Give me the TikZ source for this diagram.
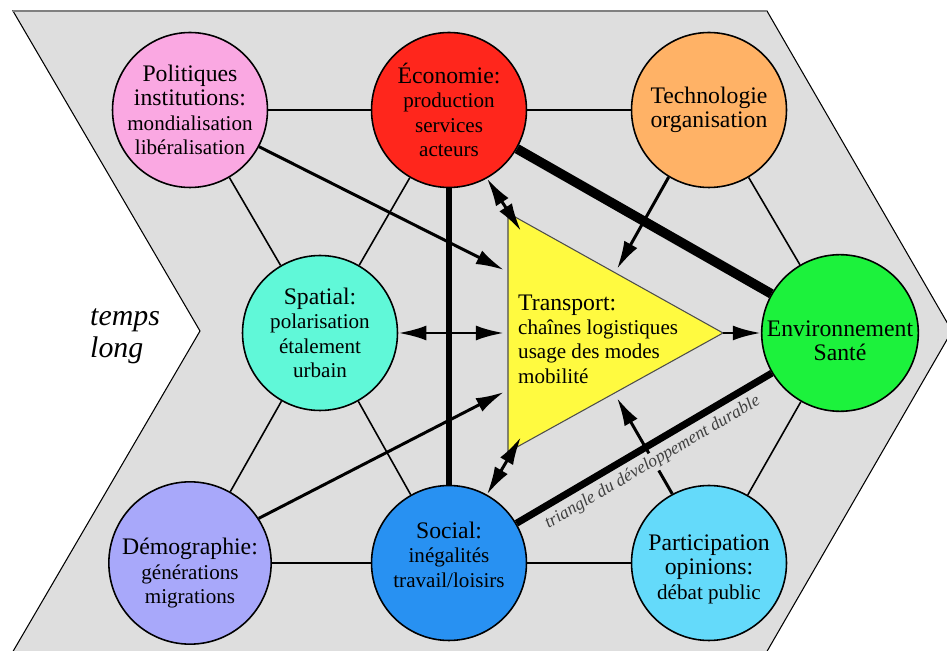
\documentclass[tikz,border=0pt]{standalone}
\usepackage{fontspec}
\setmainfont{Liberation Serif}
\usetikzlibrary{calc,arrows.meta}

\definecolor{fond}{RGB}{222,222,222}
\definecolor{cpol}{RGB}{250,168,226}
\definecolor{ceco}{RGB}{255,38,28}
\definecolor{ctec}{RGB}{255,178,102}
\definecolor{cspa}{RGB}{96,248,216}
\definecolor{cenv}{RGB}{28,242,60}
\definecolor{cdem}{RGB}{168,168,250}
\definecolor{csoc}{RGB}{40,145,242}
\definecolor{cpar}{RGB}{100,218,250}
\definecolor{ctri}{RGB}{255,250,64}

\newcommand{\titre}[1]{{\fontsize{13.5}{16}\selectfont #1}}
% pour descendre (hauteur) ou monter (profondeur) le texte d'un cercle
\newcommand{\bas}[1]{\rule{0pt}{#1}}
\newcommand{\haut}[1]{\rule[-#1]{0pt}{0pt}}

\tikzset{
  cercle/.style={circle,draw,line width=0.9pt,minimum size=3.1cm,inner sep=0pt,
    align=center,font=\fontsize{12}{13.8}\selectfont},
  lien/.style={line width=0.9pt},
  fleche/.style={line width=1.7pt},
}

\begin{document}
\begin{tikzpicture}[>={Latex[length=16pt,width=8.5pt]},x=0.02cm,y=-0.02cm]
            \useasboundingbox (0,0) rectangle (947,651);
            \clip (0,0) rectangle (947,651);
            % fond en chevron
            \draw[fill=fond,line width=0.6pt] (13,11) -- (767,11) -- (952,331) -- (762,660) -- (8,660) -- (200,331) -- cycle;
            \draw[gray,line width=1.4pt] (13,11) -- (767,11);
            \node[font=\itshape\fontsize{17}{18}\selectfont,align=left,anchor=west] (temps) at (84,336) {temps\\long};
            % cercles
            \node[cercle,fill=cpol] (pol) at (190,110) {\titre{Politiques}\\\titre{institutions:}\\mondialisation\\libéralisation};
            \node[cercle,fill=ceco] (eco) at (449,110) {\titre{Économie:}\\production\\services\\acteurs};
            \node[cercle,fill=ctec] (tec) at (709,110) {\titre{Technologie}\\\titre{organisation}};
            \node[cercle,fill=cspa] (spa) at (320,333) {\titre{Spatial:}\\polarisation\\étalement\\urbain};
            \node[cercle,fill=cenv] (env) at (840,333) {\titre{\bas{18pt}Environnement}\\\titre{Santé}};
            \node[cercle,fill=cdem] (dem) at (190,563) {\titre{\bas{21pt}Démographie:}\\générations\\migrations};
            \node[cercle,fill=csoc] (soc) at (449,563) {\titre{Social:}\\inégalités\\travail/loisirs\haut{9.5pt}};
            \node[cercle,fill=cpar] (par) at (709,563) {\titre{\bas{16pt}Participation}\\\titre{opinions:}\\débat public};
            % triangle du transport
            \draw[fill=ctri,draw=black!70,line width=0.6pt] (508,213) coordinate (tH) -- (723,333) coordinate (tP) -- (508,452) coordinate (tB) -- cycle;
            \node[anchor=west,align=left,font=\fontsize{12}{13.8}\selectfont] (trp) at (512,339) {\titre{Transport:}\\chaînes logistiques\\usage des modes\\mobilité};
            \coordinate (tg1) at (504,270);
            \coordinate (tg2) at (504,333);
            \coordinate (tg3) at (504,392);
            \coordinate (tE) at (521,231);
            \coordinate (tS) at (521,437);
            \coordinate (tN) at (617,269);
            \coordinate (tSE) at (617,398);
            % liens simples
            \foreach \a/\b in {pol/eco,eco/tec,pol/spa,eco/spa,tec/env,spa/dem,spa/soc,dem/soc,soc/par,par/env}
            {
                \draw[lien] (\a) -- (\b);
            }
            \draw[line width=5.5pt] (eco) -- (env);
            \draw[line width=3.6pt] (eco) -- (soc);
            % fleches vers le transport
            \draw[fleche,->] (pol.-28) -- (tg1);
            \draw[fleche,<->] (spa) -- (tg2);
            \draw[fleche,->] (dem.33) -- (tg3);
            \draw[fleche,<->] (eco.-61) -- (tE);
            \draw[fleche,<->] (soc.61) -- (tS);
            \draw[fleche,->] (tec.-121) -- (tN);
            \draw[fleche,->] (par.118) -- (tSE);
            \draw[fleche,->] (tP) -- (env);
            \draw[line width=4pt] (soc) -- node[sloped,below=2pt,fill=fond,inner sep=1pt,text=black!75,font=\itshape\fontsize{10}{12}\selectfont] (tdd) {triangle du développement durable} (env);
        \end{tikzpicture}
\end{document}
